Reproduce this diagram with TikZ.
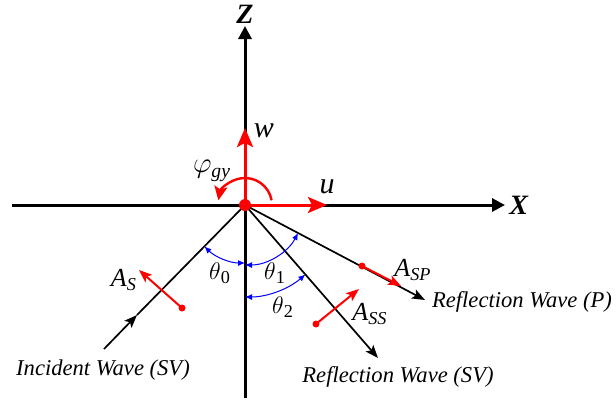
\documentclass[tikz,border=0pt]{standalone}
\usepackage{fontspec}
\setmainfont{Liberation Serif}
\usetikzlibrary{arrows.meta,positioning}

\begin{document}
\begin{tikzpicture}[x=0.5pt,y=-0.5pt,font=\fontsize{11.3}{13}\selectfont,
    axis/.style={line width=1.5pt,-{Triangle[length=6.5pt,width=6.5pt]}},
    wave/.style={line width=0.85pt,-{Stealth[length=6.5pt,width=5pt,inset=1.5pt]}},
    vec/.style={red,line width=1.5pt,-{Stealth[length=9.5pt,width=8pt,inset=2pt]}},
    disp/.style={red,line width=1pt,-{Stealth[length=6.5pt,width=5pt,inset=1.5pt]}},
    angarr/.style={blue,line width=0.5pt,{Latex[length=3.5pt,width=3pt]}-{Latex[length=3.5pt,width=3pt]}},
    sym/.style={inner sep=1pt,font=\fontsize{13}{15}\selectfont}]
  \useasboundingbox (0,0) rectangle (616,403);
  % origin and axes
  \coordinate (O) at (245,205);
  \coordinate (xl) at (12,205);
  \coordinate (xtip) at (505,205);
  \coordinate (zb) at (245,398);
  \coordinate (ztip) at (245,26);
  \draw[axis] (xl) -- (xtip);
  \draw[axis] (zb) -- (ztip);
  \node[sym,right=1pt of xtip,font=\fontsize{14}{15}\selectfont] (xlab) {\textbf{\textit{X}}};
  \node[sym,above=0pt of ztip,font=\fontsize{14}{15}\selectfont] (zlab) {\textbf{\textit{Z}}};
  % incident and reflected waves
  \coordinate (inc) at (104,349);
  \coordinate (incmid) at (137,315);
  \coordinate (ptip) at (425,300);
  \coordinate (svtip) at (378,358);
  \draw[wave] (inc) -- (incmid);
  \draw[wave,-] (incmid) -- (O);
  \draw[wave] (O) -- (ptip);
  \draw[wave] (O) -- (svtip);
  \node (inclab) at (103,370) {\textit{Incident Wave (SV)}};
  \node[right=0pt of ptip,yshift=-1pt] (plab) {\textit{Reflection Wave (P)}};
  \node (svlab) at (398,377) {\textit{Reflection Wave (SV)}};
  % angles
  \draw[angarr] (O) ++(134.4:58) arc[start angle=134.4,end angle=90,radius=58];
  \draw[angarr] (O) ++(90:60) arc[start angle=90,end angle=27.8,radius=60];
  \draw[angarr] (O) ++(90:92) arc[start angle=90,end angle=49,radius=92];
  \node[sym] (th0) at (220,273) {$\theta$\textsubscript{0}};
  \node[sym] (th1) at (275,273) {$\theta$\textsubscript{1}};
  \node[sym] (th2) at (283,307) {$\theta$\textsubscript{2}};
  % displacement vectors at the origin
  \coordinate (wtip) at (245,128);
  \coordinate (utip) at (327,205);
  \draw[vec] (O) -- (wtip);
  \draw[vec] (O) -- (utip);
  \node[sym,font=\fontsize{15}{16}\selectfont] (wlab) at (264,131) {\textit{w}};
  \node[sym,font=\fontsize{15}{16}\selectfont] (ulab) at (327,187) {\textit{u}};
  \draw[red,line width=1.2pt,-{Stealth[length=7pt,width=6.5pt,inset=1.5pt]}]
    (O) ++(-10:27) arc[start angle=-10,end angle=-170,radius=27];
  \node[sym,font=\fontsize{14}{15}\selectfont] (philab) at (212,171) {$\varphi$\textsubscript{\textit{gy}}};
  % amplitudes
  \coordinate (as0) at (182,308);
  \coordinate (as1) at (139,270);
  \coordinate (asp0) at (362,266);
  \coordinate (asp1) at (401,286);
  \coordinate (ass0) at (316,324);
  \coordinate (ass1) at (359,289);
  \draw[disp] (as0) -- (as1);
  \draw[disp] (asp0) -- (asp1);
  \draw[disp] (ass0) -- (ass1);
  \fill[red] (as0) circle (3.5) (asp0) circle (3.5) (ass0) circle (3.5);
  \node[sym] (aslab) at (124,280) {\textit{A}\textsubscript{\textit{S}}};
  \node[sym] (asplab) at (413,270) {\textit{A}\textsubscript{\textit{SP}}};
  \node[sym] (asslab) at (370,314) {\textit{A}\textsubscript{\textit{SS}}};
  \fill[red] (O) circle (6);
\end{tikzpicture}
\end{document}
